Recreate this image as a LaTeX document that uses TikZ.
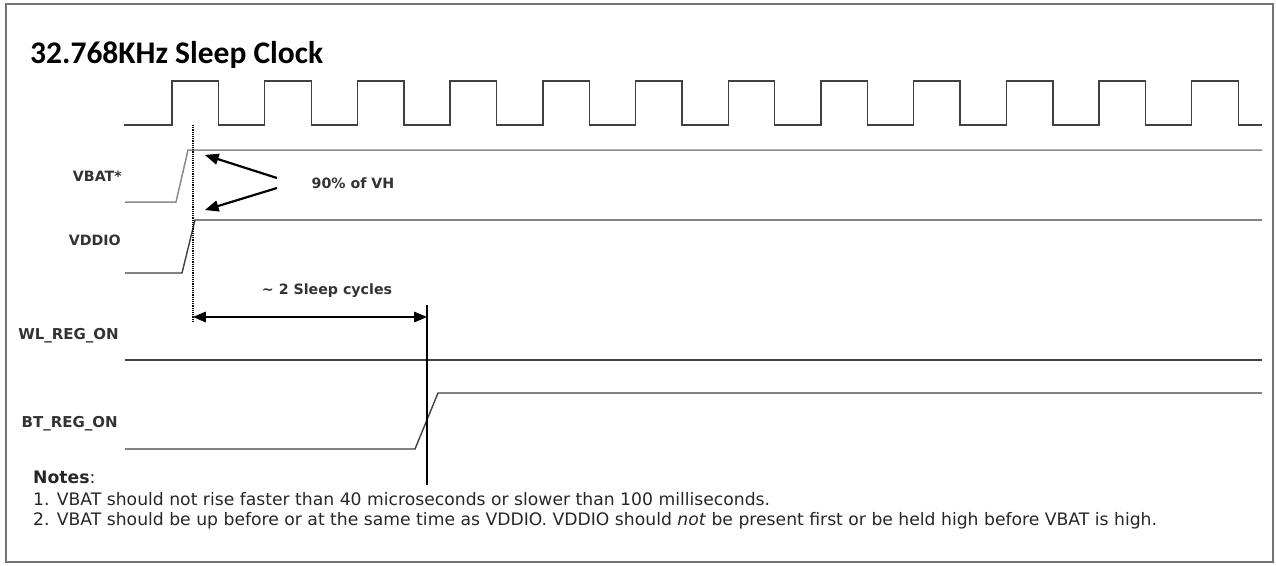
\documentclass[tikz,border=0pt]{standalone}
\usepackage{fontspec}
\setmainfont{DejaVu Sans}
\newfontfamily\titlefont{Carlito}
\usetikzlibrary{arrows}

\begin{document}
\begin{tikzpicture}[x=1pt,y=-1pt,>=triangle 45,
    sig/.style={draw=black!75,line width=1.4pt},
    lbl/.style={font=\fontsize{14.2}{16}\selectfont\bfseries,text=black!80,anchor=east,inner sep=0pt},
    note/.style={font=\fontsize{17.2}{20}\selectfont,text=black!85,anchor=base west,inner sep=0pt}]
    \useasboundingbox (0,0) rectangle (1276,565);
    \draw[black!55,line width=2pt] (6,4) rectangle (1273,562);
    \node[anchor=base west,inner sep=0pt,font=\titlefont\bfseries\fontsize{31.5}{34}\selectfont] (title) at (30,63) {32.768KHz Sleep Clock};

    % sleep clock
    \draw[sig] (124,125) \foreach \i in {0,...,11}{ -- ({172+92.7*\i},125) -- ++(0,-44) -- ++(46.5,0) -- ++(0,44) } -- (1262,125);

    % supply and enable lines
    \draw[draw=black!45,line width=1.5pt] (125,202) -- (176,202) -- (188,150) -- (1262,150);
    \draw[sig] (125,273) -- (182,273) -- (195,220) -- (1262,220);
    \draw[sig] (125,360) -- (1262,360);
    \draw[sig] (125,449) -- (415,449) -- (438,393) -- (1262,393);

    \node[lbl] (vbat) at (122,176) {VBAT*};
    \node[lbl] (vddio) at (121,240) {VDDIO};
    \node[lbl,font=\fontsize{15}{17}\selectfont\bfseries] (wl) at (119,336) {WL\_REG\_ON};
    \node[lbl,font=\fontsize{15}{17}\selectfont\bfseries] (bt) at (118,424) {BT\_REG\_ON};

    % markers
    \coordinate (m0top) at (193,125);
    \coordinate (m0bot) at (193,323);
    \coordinate (m1top) at (427,305);
    \coordinate (m1bot) at (427,485);
    \draw[black,line width=1.2pt,densely dotted] (m0top) -- (m0bot);
    \draw[black,line width=1.1pt] (m1top) -- (m1bot);

    \node[lbl,anchor=center] (vh) at (353,183) {90\% of VH};
    \coordinate (vhup) at (277,178);
    \coordinate (vhdn) at (277,188);
    \coordinate (tipup) at (205,155);
    \coordinate (tipdn) at (205,210);
    \draw[->,line width=2.2pt] (vhup) -- (tipup);
    \draw[->,line width=2.2pt] (vhdn) -- (tipdn);

    \node[lbl,anchor=center] (cyc) at (327,291) {\textasciitilde{} 2 Sleep cycles};
    \coordinate (d0) at (193,317);
    \coordinate (d1) at (427,317);
    \draw[<->,line width=2pt] (d0) -- (d1);

    % notes
    \node[note] (notes) at (33,483) {\textbf{Notes}:};
    \node[note] (note1) at (33,505) {1. VBAT should not rise faster than 40 microseconds or slower than 100 milliseconds.};
    \node[note] (note2) at (33,525) {2. VBAT should be up before or at the same time as VDDIO. VDDIO should \emph{not} be present first or be held high before VBAT is high.};
\end{tikzpicture}
\end{document}
